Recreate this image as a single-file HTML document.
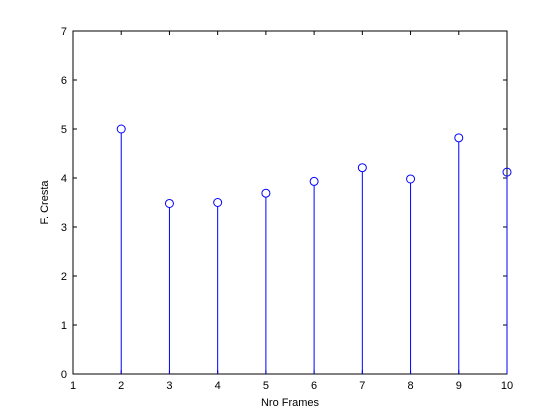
<!DOCTYPE html>
<html><head><meta charset="utf-8"><style>
body{margin:0;background:#fff;}
svg{display:block;font-family:"Liberation Sans",Arial,sans-serif;}
</style></head><body>
<svg id="c" width="560" height="420">
<rect width="560" height="420" fill="#fff"/>
</svg>
<script>
const xs=[2,3,4,5,6,7,8,9,10];
const ys=[5.0,3.48,3.5,3.69,3.93,4.21,3.98,4.82,4.12];
const xTicks=[1,2,3,4,5,6,7,8,9,10];
const yTicks=[0,1,2,3,4,5,6,7];
const L=73,R=507,T=31,B=374;
const sx=v=>L+(v-1)/9*(R-L);
const sy=v=>B-v/7*(B-T);
const svg=document.getElementById('c');
const NS='http://www.w3.org/2000/svg';
function mk(t,a,txt){const e=document.createElementNS(NS,t);for(const k in a)e.setAttribute(k,a[k]);if(txt!=null)e.textContent=txt;svg.appendChild(e);return e;}
let e=mk('rect',{x:L,y:T,width:R-L,height:B-T,fill:'#fff',stroke:'#000','stroke-width':1});


xTicks.forEach(v=>{const x=sx(v);
 mk('line',{x1:x,x2:x,y1:B,y2:B-4,stroke:'#000'});mk('line',{x1:x,x2:x,y1:T,y2:T+4,stroke:'#000'});
 const t=mk('text',{x:x,y:B+15,'text-anchor':'middle','font-size':11},v);
 
 });
yTicks.forEach(v=>{const y=sy(v);
 mk('line',{x1:L,x2:L+4,y1:y,y2:y,stroke:'#000'});mk('line',{x1:R,x2:R-4,y1:y,y2:y,stroke:'#000'});
 const t=mk('text',{x:L-6,y:y+4,'text-anchor':'end','font-size':11},v);
 
 });
xs.forEach((v,i)=>{const x=sx(v),y=sy(ys[i]);
 const s=mk('line',{x1:x,x2:x,y1:B,y2:y+4,stroke:'#0000ff','stroke-width':1});
 
 
 const c=mk('circle',{cx:x,cy:y,r:4,fill:'none',stroke:'#0000ff','stroke-width':1});
 
 });
let xl=mk('text',{x:(L+R)/2,y:406,'text-anchor':'middle','font-size':11},'Nro Frames');


let yl=mk('text',{x:0,y:0,'text-anchor':'middle','font-size':11,transform:'translate(48,'+((T+B)/2)+') rotate(-90)'},'F. Cresta');


</script>
</body></html>
